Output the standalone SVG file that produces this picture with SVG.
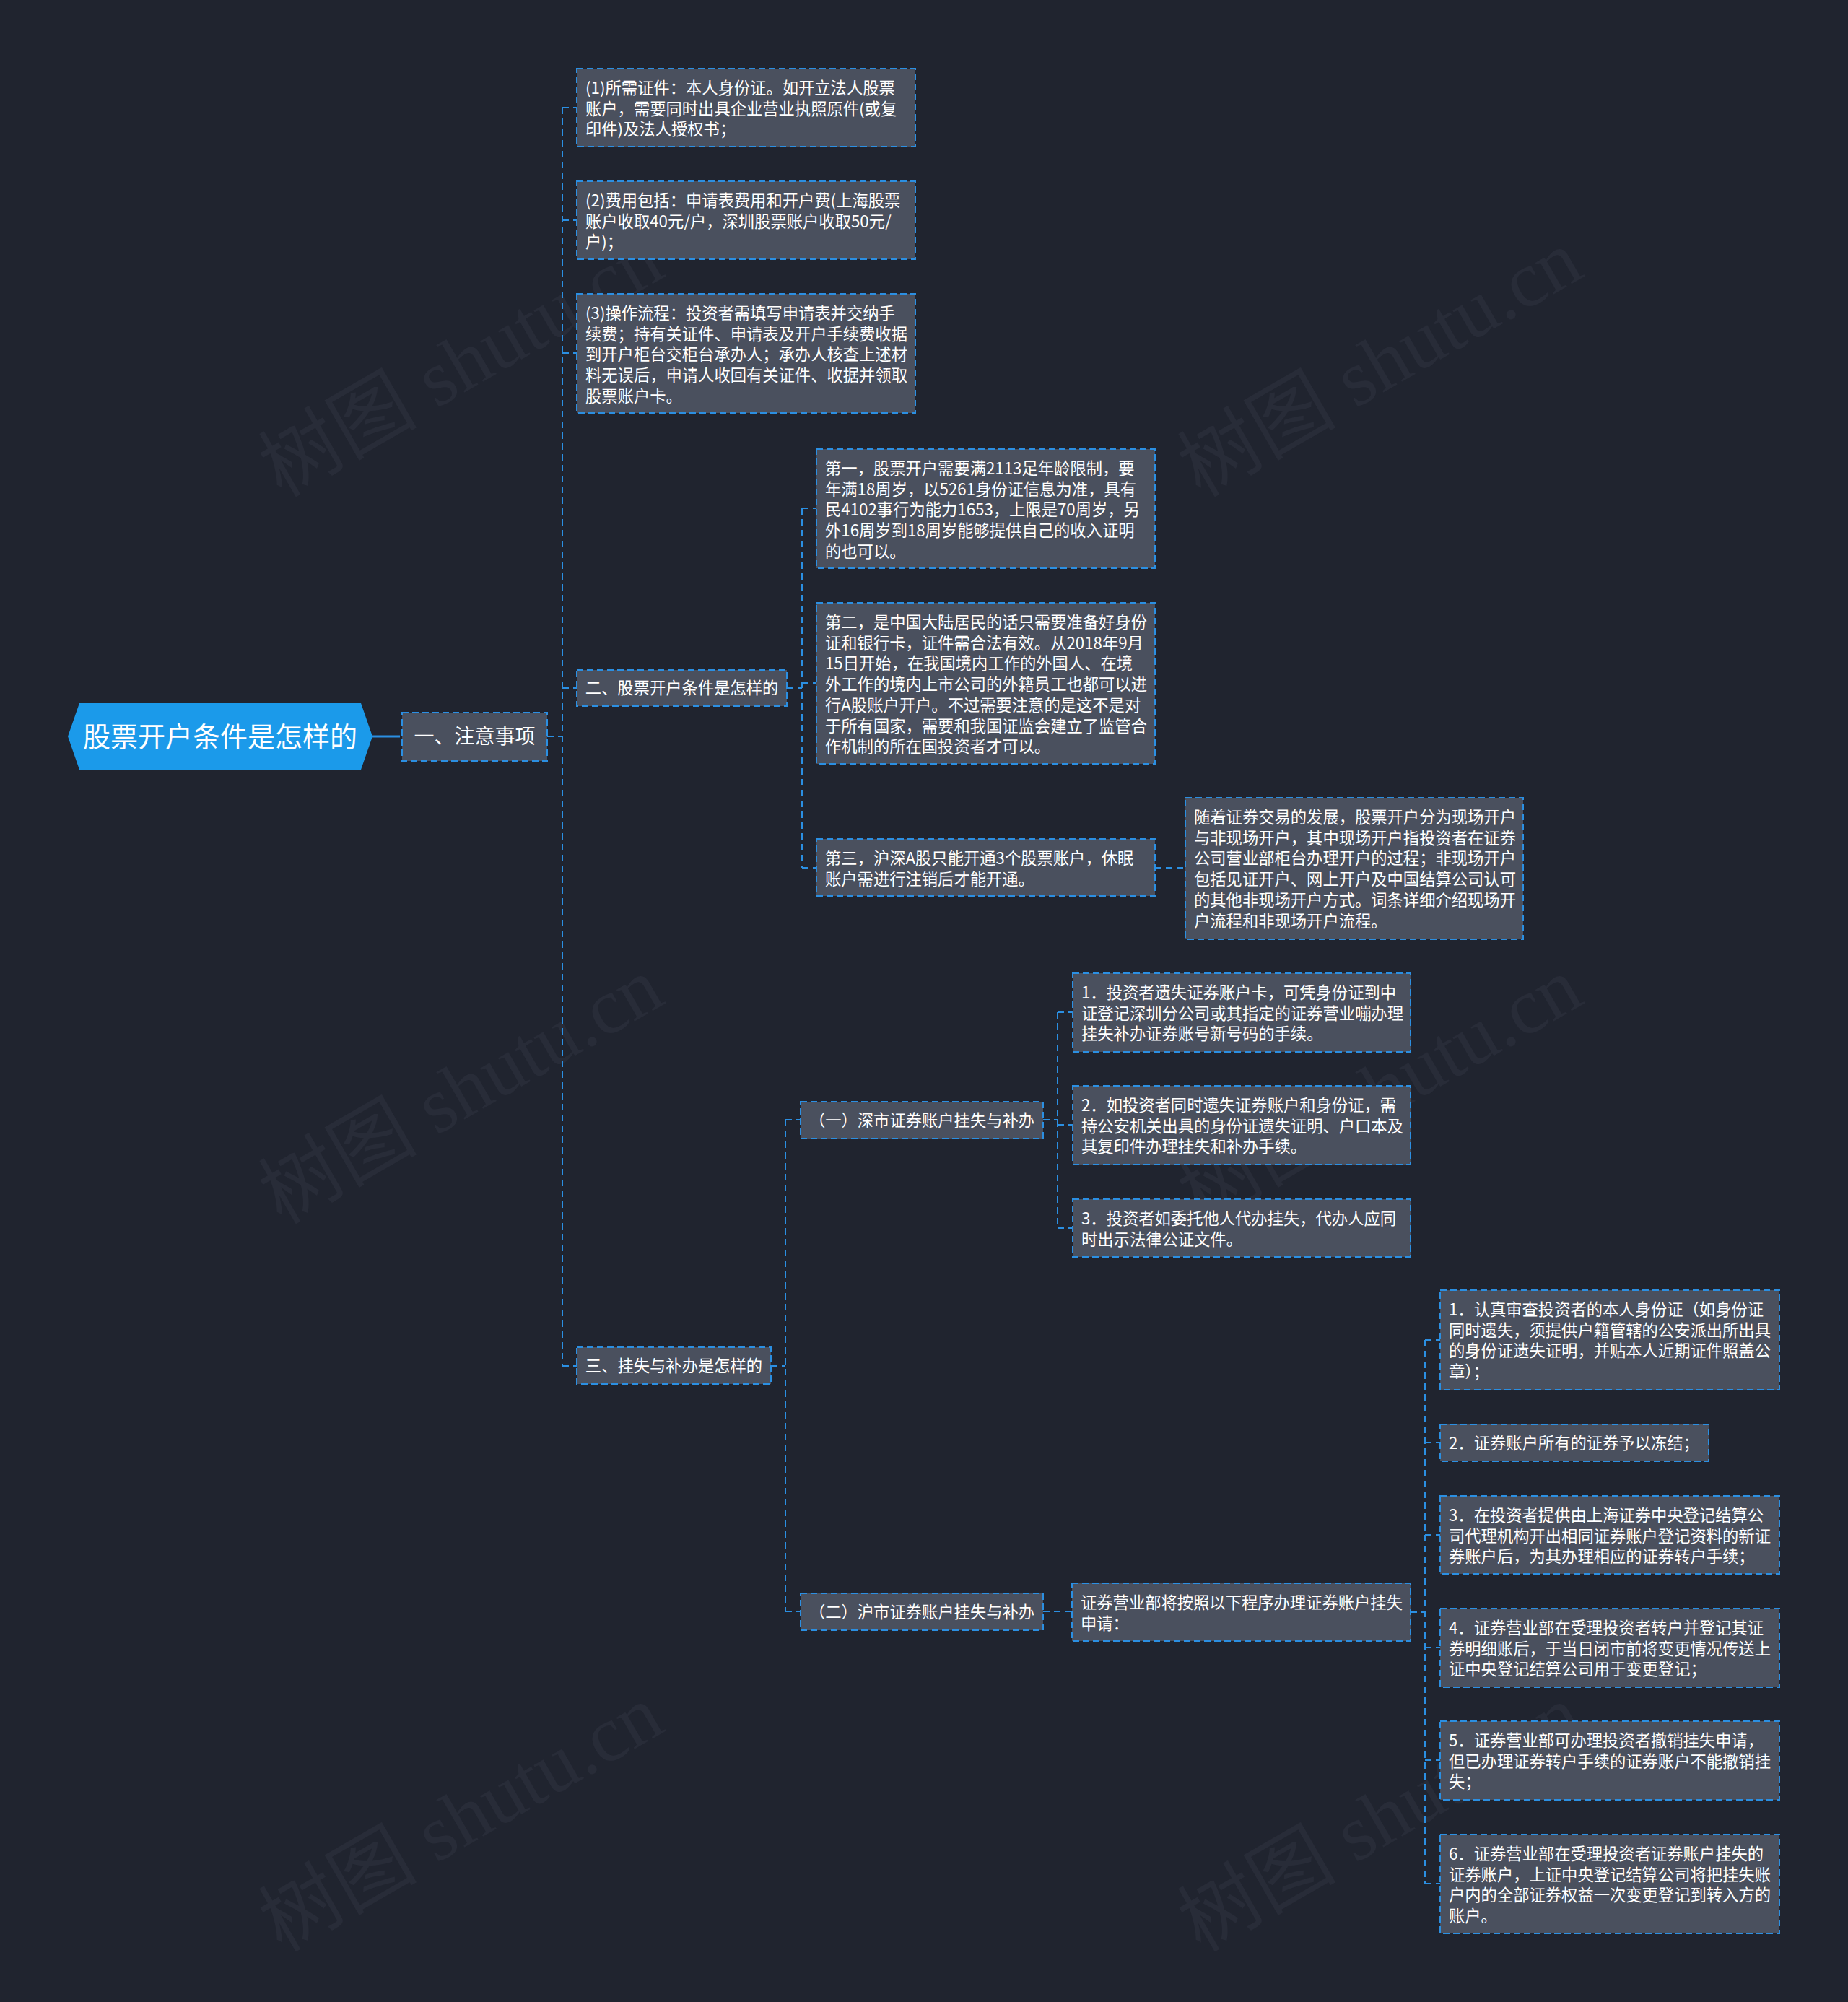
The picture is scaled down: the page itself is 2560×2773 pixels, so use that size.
<svg xmlns="http://www.w3.org/2000/svg" width="2560" height="2773" viewBox="0 0 2560 2773">
<defs>
<style>
.bg{fill:#20242f}
.wm{font-family:"Liberation Serif","Noto Sans CJK SC",serif;font-size:110px;fill:#282c38}
.box{fill:#4a505e;stroke:#2b8fe2;stroke-width:2;stroke-dasharray:9 5}
.t{font-family:"Noto Sans CJK SC","Microsoft YaHei",sans-serif;font-size:22.3px;fill:#ffffff}
.tc{font-family:"Noto Sans CJK SC","Microsoft YaHei",sans-serif;font-size:22.3px;fill:#ffffff;text-anchor:middle}
.conn{fill:none;stroke:#2b8fe2;stroke-width:2;stroke-dasharray:9 6}
</style>
</defs>
<rect class="bg" x="0" y="0" width="2560" height="2773"/>
<g id="watermarks">
<text class="wm" transform="translate(390,690) rotate(-30)">树图 shutu.cn</text>
<text class="wm" transform="translate(1663,690) rotate(-30)">树图 shutu.cn</text>
<text class="wm" transform="translate(390,1697) rotate(-30)">树图 shutu.cn</text>
<text class="wm" transform="translate(1663,1697) rotate(-30)">树图 shutu.cn</text>
<text class="wm" transform="translate(390,2705) rotate(-30)">树图 shutu.cn</text>
<text class="wm" transform="translate(1663,2705) rotate(-30)">树图 shutu.cn</text>
</g>
<g id="connectors">
<path d="M516,1020 H545" fill="none" stroke="#2b8fe2" stroke-width="3"/>
<path class="conn" d="M545,1020 H557" style="stroke-width:3"/>
<path class="conn" d="M758,1020 H779"/>
<path class="conn" d="M779,149 V1892"/>
<path class="conn" d="M779,149 H799 M779,305 H799 M779,489 H799 M779,953 H799 M779,1892 H799"/>
<path class="conn" d="M1090,953 H1111 M1111,704 V1202 M1111,704 H1131 M1111,946 H1131 M1111,1202 H1131"/>
<path class="conn" d="M1600,1202 H1642"/>
<path class="conn" d="M1068,1892 H1088 M1088,1551 V2232 M1088,1551 H1109 M1088,2232 H1109"/>
<path class="conn" d="M1445,1551 H1465 M1465,1402 V1701 M1465,1402 H1486 M1465,1558 H1486 M1465,1701 H1486"/>
<path class="conn" d="M1445,2232 H1485"/>
<path class="conn" d="M1954,2233 H1974 M1974,1856 V2609 M1974,1856 H1995 M1974,1998 H1995 M1974,2126 H1995 M1974,2282 H1995 M1974,2438 H1995 M1974,2609 H1995"/>
</g>
<g id="root">
<polygon points="94,1020 110,974 500,974 516,1020 500,1066 110,1066" fill="#1b9aea"/>
<text x="305" y="1034" style="font-family:'Noto Sans CJK SC','Microsoft YaHei',sans-serif;font-size:38px;fill:#ffffff;text-anchor:middle">股票开户条件是怎样的</text>
</g>
<g id="n1">
<rect class="box" x="557" y="987" width="201" height="67"/>
<text x="657.5" y="1030" style="font-family:'Noto Sans CJK SC','Microsoft YaHei',sans-serif;font-size:28px;fill:#ffffff;text-anchor:middle">一、注意事项</text>
</g>
<g id="a1">
<rect class="box" x="799" y="95" width="469" height="108"/>
<text class="t"><tspan x="811" y="130">(1)所需证件：本人身份证。如开立法人股票</tspan><tspan x="811" y="158.7">账户，需要同时出具企业营业执照原件(或复</tspan><tspan x="811" y="187.4">印件)及法人授权书；</tspan></text>
</g>
<g id="a2">
<rect class="box" x="799" y="251" width="469" height="108"/>
<text class="t"><tspan x="811" y="286">(2)费用包括：申请表费用和开户费(上海股票</tspan><tspan x="811" y="314.7">账户收取40元/户，深圳股票账户收取50元/</tspan><tspan x="811" y="343.4">户)；</tspan></text>
</g>
<g id="a3">
<rect class="box" x="799" y="407" width="469" height="165"/>
<text class="t"><tspan x="811" y="442">(3)操作流程：投资者需填写申请表并交纳手</tspan><tspan x="811" y="470.7">续费；持有关证件、申请表及开户手续费收据</tspan><tspan x="811" y="499.4">到开户柜台交柜台承办人；承办人核查上述材</tspan><tspan x="811" y="528.1">料无误后，申请人收回有关证件、收据并领取</tspan><tspan x="811" y="556.8">股票账户卡。</tspan></text>
</g>
<g id="b">
<rect class="box" x="799" y="928" width="291" height="50"/>
<text class="tc" x="944.5" y="961">二、股票开户条件是怎样的</text>
</g>
<g id="b1">
<rect class="box" x="1131" y="622" width="469" height="165"/>
<text class="t"><tspan x="1143" y="657">第一，股票开户需要满2113足年龄限制，要</tspan><tspan x="1143" y="685.7">年满18周岁，以5261身份证信息为准，具有</tspan><tspan x="1143" y="714.4">民4102事行为能力1653，上限是70周岁，另</tspan><tspan x="1143" y="743.1">外16周岁到18周岁能够提供自己的收入证明</tspan><tspan x="1143" y="771.8">的也可以。</tspan></text>
</g>
<g id="b2">
<rect class="box" x="1131" y="835" width="469" height="223"/>
<text class="t"><tspan x="1143" y="870">第二，是中国大陆居民的话只需要准备好身份</tspan><tspan x="1143" y="898.7">证和银行卡，证件需合法有效。从2018年9月</tspan><tspan x="1143" y="927.4">15日开始，在我国境内工作的外国人、在境</tspan><tspan x="1143" y="956.1">外工作的境内上市公司的外籍员工也都可以进</tspan><tspan x="1143" y="984.8">行A股账户开户。不过需要注意的是这不是对</tspan><tspan x="1143" y="1013.5">于所有国家，需要和我国证监会建立了监管合</tspan><tspan x="1143" y="1042.2">作机制的所在国投资者才可以。</tspan></text>
</g>
<g id="b3">
<rect class="box" x="1131" y="1162" width="469" height="79"/>
<text class="t"><tspan x="1143" y="1197">第三，沪深A股只能开通3个股票账户，休眠</tspan><tspan x="1143" y="1225.7">账户需进行注销后才能开通。</tspan></text>
</g>
<g id="b3a">
<rect class="box" x="1642" y="1105" width="468" height="196"/>
<text class="t"><tspan x="1654" y="1140">随着证券交易的发展，股票开户分为现场开户</tspan><tspan x="1654" y="1168.7">与非现场开户，其中现场开户指投资者在证券</tspan><tspan x="1654" y="1197.4">公司营业部柜台办理开户的过程；非现场开户</tspan><tspan x="1654" y="1226.1">包括见证开户、网上开户及中国结算公司认可</tspan><tspan x="1654" y="1254.8">的其他非现场开户方式。词条详细介绍现场开</tspan><tspan x="1654" y="1283.5">户流程和非现场开户流程。</tspan></text>
</g>
<g id="c">
<rect class="box" x="799" y="1866" width="269" height="51"/>
<text class="tc" x="933.5" y="1900">三、挂失与补办是怎样的</text>
</g>
<g id="c1">
<rect class="box" x="1109" y="1526" width="336" height="51"/>
<text class="tc" x="1277" y="1560">（一）深市证券账户挂失与补办</text>
</g>
<g id="c1a">
<rect class="box" x="1486" y="1348" width="468" height="109"/>
<text class="t"><tspan x="1498" y="1383">1．投资者遗失证券账户卡，可凭身份证到中</tspan><tspan x="1498" y="1411.7">证登记深圳分公司或其指定的证券营业嘣办理</tspan><tspan x="1498" y="1440.4">挂失补办证券账号新号码的手续。</tspan></text>
</g>
<g id="c1b">
<rect class="box" x="1486" y="1504" width="468" height="109"/>
<text class="t"><tspan x="1498" y="1539">2．如投资者同时遗失证券账户和身份证，需</tspan><tspan x="1498" y="1567.7">持公安机关出具的身份证遗失证明、户口本及</tspan><tspan x="1498" y="1596.4">其复印件办理挂失和补办手续。</tspan></text>
</g>
<g id="c1c">
<rect class="box" x="1486" y="1661" width="468" height="80"/>
<text class="t"><tspan x="1498" y="1696">3．投资者如委托他人代办挂失，代办人应同</tspan><tspan x="1498" y="1724.7">时出示法律公证文件。</tspan></text>
</g>
<g id="c2">
<rect class="box" x="1109" y="2207" width="336" height="51"/>
<text class="tc" x="1277" y="2241">（二）沪市证券账户挂失与补办</text>
</g>
<g id="c2a">
<rect class="box" x="1485" y="2193" width="469" height="80"/>
<text class="t"><tspan x="1497" y="2228">证券营业部将按照以下程序办理证券账户挂失</tspan><tspan x="1497" y="2256.7">申请：</tspan></text>
</g>
<g id="d1">
<rect class="box" x="1995" y="1787" width="470" height="138"/>
<text class="t"><tspan x="2007" y="1822">1．认真审查投资者的本人身份证（如身份证</tspan><tspan x="2007" y="1850.7">同时遗失，须提供户籍管辖的公安派出所出具</tspan><tspan x="2007" y="1879.4">的身份证遗失证明，并贴本人近期证件照盖公</tspan><tspan x="2007" y="1908.1">章）；</tspan></text>
</g>
<g id="d2">
<rect class="box" x="1995" y="1973" width="372" height="51"/>
<text class="t"><tspan x="2007" y="2007">2．证券账户所有的证券予以冻结；</tspan></text>
</g>
<g id="d3">
<rect class="box" x="1995" y="2072" width="470" height="108"/>
<text class="t"><tspan x="2007" y="2107">3．在投资者提供由上海证券中央登记结算公</tspan><tspan x="2007" y="2135.7">司代理机构开出相同证券账户登记资料的新证</tspan><tspan x="2007" y="2164.4">券账户后，为其办理相应的证券转户手续；</tspan></text>
</g>
<g id="d4">
<rect class="box" x="1995" y="2228" width="470" height="109"/>
<text class="t"><tspan x="2007" y="2263">4．证券营业部在受理投资者转户并登记其证</tspan><tspan x="2007" y="2291.7">券明细账后，于当日闭市前将变更情况传送上</tspan><tspan x="2007" y="2320.4">证中央登记结算公司用于变更登记；</tspan></text>
</g>
<g id="d5">
<rect class="box" x="1995" y="2384" width="470" height="109"/>
<text class="t"><tspan x="2007" y="2419">5．证券营业部可办理投资者撤销挂失申请，</tspan><tspan x="2007" y="2447.7">但已办理证券转户手续的证券账户不能撤销挂</tspan><tspan x="2007" y="2476.4">失；</tspan></text>
</g>
<g id="d6">
<rect class="box" x="1995" y="2541" width="470" height="137"/>
<text class="t"><tspan x="2007" y="2576">6．证券营业部在受理投资者证券账户挂失的</tspan><tspan x="2007" y="2604.7">证券账户，上证中央登记结算公司将把挂失账</tspan><tspan x="2007" y="2633.4">户内的全部证券权益一次变更登记到转入方的</tspan><tspan x="2007" y="2662.1">账户。</tspan></text>
</g>
</svg>
